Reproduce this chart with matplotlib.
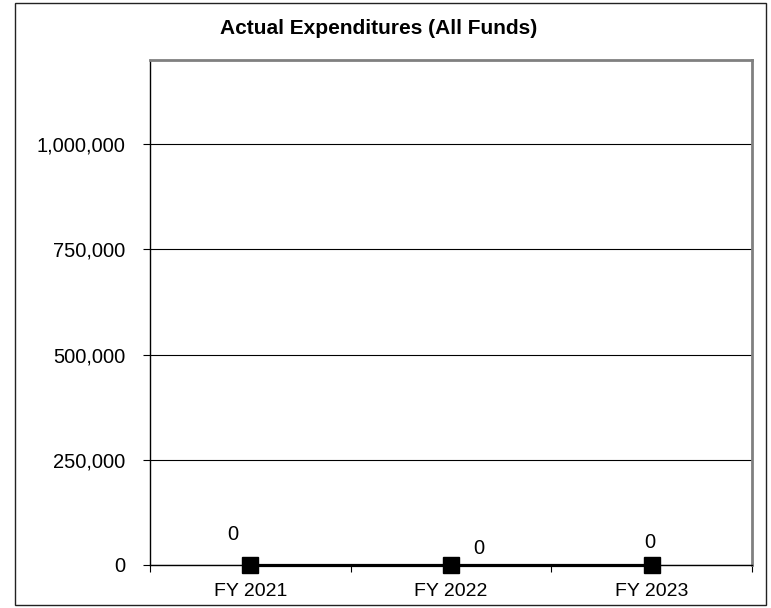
import matplotlib
matplotlib.use("Agg")
import matplotlib.pyplot as plt
from matplotlib.patches import Rectangle
from matplotlib.ticker import FuncFormatter

categories = ["FY 2021", "FY 2022", "FY 2023"]
values = [0, 0, 0]
label_offsets = [(-18, 31), (28, 17), (-2, 22)]  # pixel offsets (right, up) of data labels
yticks = [0, 250000, 500000, 750000, 1000000]

plt.rcParams['font.family'] = ['Liberation Sans', 'DejaVu Sans']

fig = plt.figure(figsize=(7.71, 6.08), dpi=100)
W, H = 771, 608
fig.patches.append(Rectangle((15 / W, 3 / H), (766 - 15) / W, (605 - 3) / H,
                             transform=fig.transFigure, fill=False,
                             edgecolor='#222222', linewidth=1.0))

ax = fig.add_axes([150 / W, (H - 565) / H, (752 - 150) / W, (565 - 60) / H])
x = list(range(len(categories)))
ax.plot(x, values, color='black', linewidth=2.3, marker='s', markersize=11,
        markerfacecolor='black', markeredgecolor='black', zorder=5, clip_on=False)
for xi, v, off in zip(x, values, label_offsets):
    ax.annotate(f"{v:,.0f}", (xi, v), xytext=(off[0] * 0.72, off[1] * 0.72),
                textcoords='offset points', ha='center', va='center', fontsize=14.5)

ax.set_xlim(-0.5, len(categories) - 0.5)
ax.set_ylim(0, 1200000)
ax.set_yticks(yticks)
ax.yaxis.set_major_formatter(FuncFormatter(lambda v, p: f"{v:,.0f}"))
ax.set_xticks([i - 0.5 for i in range(len(categories) + 1)])
ax.set_xticklabels([])
ax.set_xticks(x, minor=True)
ax.set_xticklabels(categories, minor=True)
ax.tick_params(axis='x', which='minor', length=0, labelsize=14, pad=13)
ax.tick_params(axis='x', which='major', length=5, direction='out', width=0.8)
ax.tick_params(axis='y', length=5, direction='out', width=0.8, labelsize=14.5, pad=13)
ax.grid(axis='y', color='black', linewidth=0.8)
ax.set_axisbelow(True)
for s in ['top', 'right']:
    ax.spines[s].set_color('#808080')
    ax.spines[s].set_linewidth(2)
for s in ['left', 'bottom']:
    ax.spines[s].set_color('black')
    ax.spines[s].set_linewidth(1)

fig.text(379 / W, 1 - 29 / H, "Actual Expenditures (All Funds)", ha='center', va='center',
         fontsize=15, fontweight='bold')

fig.savefig("out.png", dpi=100)
